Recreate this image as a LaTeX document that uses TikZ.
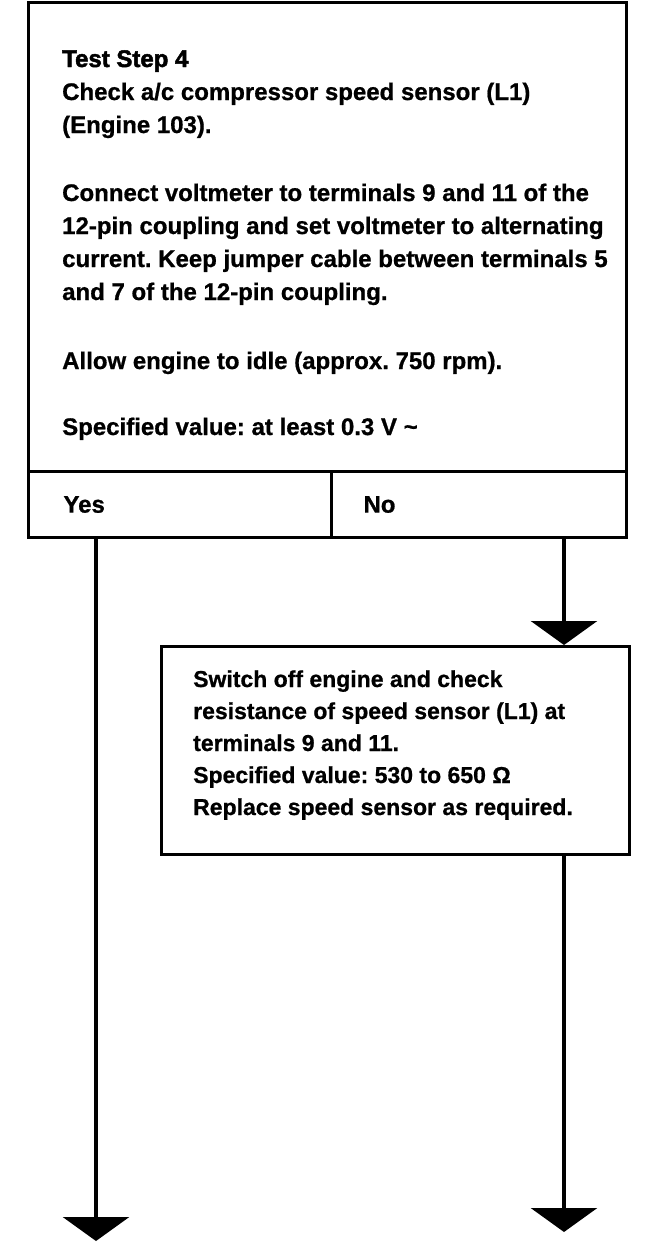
\documentclass[tikz,border=0pt]{standalone}
\usepackage{fontspec}
\setmainfont{Liberation Sans}[BoldFeatures={FakeBold=0.8}]
\newfontfamily\heavyfont[FakeBold=2]{Liberation Sans Bold}
\usetikzlibrary{arrows.meta}
\frenchspacing
\begin{document}
\frenchspacing
\begin{tikzpicture}[x=1pt,y=-1pt,
  frame/.style={draw, line width=3pt, rectangle, inner sep=0pt, anchor=north west},
  cell/.style={frame, minimum height=66pt, align=left, font=\bfseries\fontsize{24}{33}\selectfont},
  txt/.style={anchor=base west, align=left, inner sep=0pt, font=\bfseries\fontsize{24}{33}\selectfont},
  txtb/.style={txt, font=\bfseries\fontsize{23}{32}\selectfont},
  arr/.style={line width=3.5pt, -{Triangle[width=66pt,length=24pt]}}]
\useasboundingbox (0,0) rectangle (672,1256);
% main box
\node[frame, minimum width=598pt, minimum height=469pt] (main) at (27,1) {};
% multi-line texts: anchor is the baseline of the last line
\node[txt] (p1) at (62,133) {{\heavyfont Test Step 4}\\Check a/c compressor speed sensor (L1)\\(Engine 103).};
\node[txt] (p2) at (62,300) {Connect voltmeter to terminals 9 and 11 of the\\12-pin coupling and set voltmeter to alternating\\current. Keep jumper cable between terminals 5\\and 7 of the 12-pin coupling.};
\node[txt] (p3) at (62,369) {Allow engine to idle (approx. 750 rpm).};
\node[txt] (p4) at (62,435) {Specified value: at least 0.3 V \textasciitilde};
% yes / no cells
\node[cell, minimum width=303pt, text width=233pt, inner xsep=35pt] (yes) at (27,470) {Yes};
\node[cell, minimum width=295pt, text width=231pt, inner xsep=32pt] (no) at (330,470) {No};
% second box
\node[frame, minimum width=468pt, minimum height=208pt] (b2) at (160,645) {};
\node[txtb] (b2t) at (193,815) {Switch off engine and check\\resistance of speed sensor (L1) at\\terminals 9 and 11.\\Specified value: 530 to 650 \symbol{"03A9}\\Replace speed sensor as required.};
% connectors
\coordinate (ycol) at (96,0);
\coordinate (ncol) at (564,0);
\coordinate (yend) at (96,1241);
\coordinate (nend) at (564,1232);
\draw[arr] (yes.south -| ycol) -- (yend);
\draw[arr] (no.south -| ncol) -- (b2.north -| ncol);
\draw[arr] (b2.south -| ncol) -- (nend);
\end{tikzpicture}
\end{document}
